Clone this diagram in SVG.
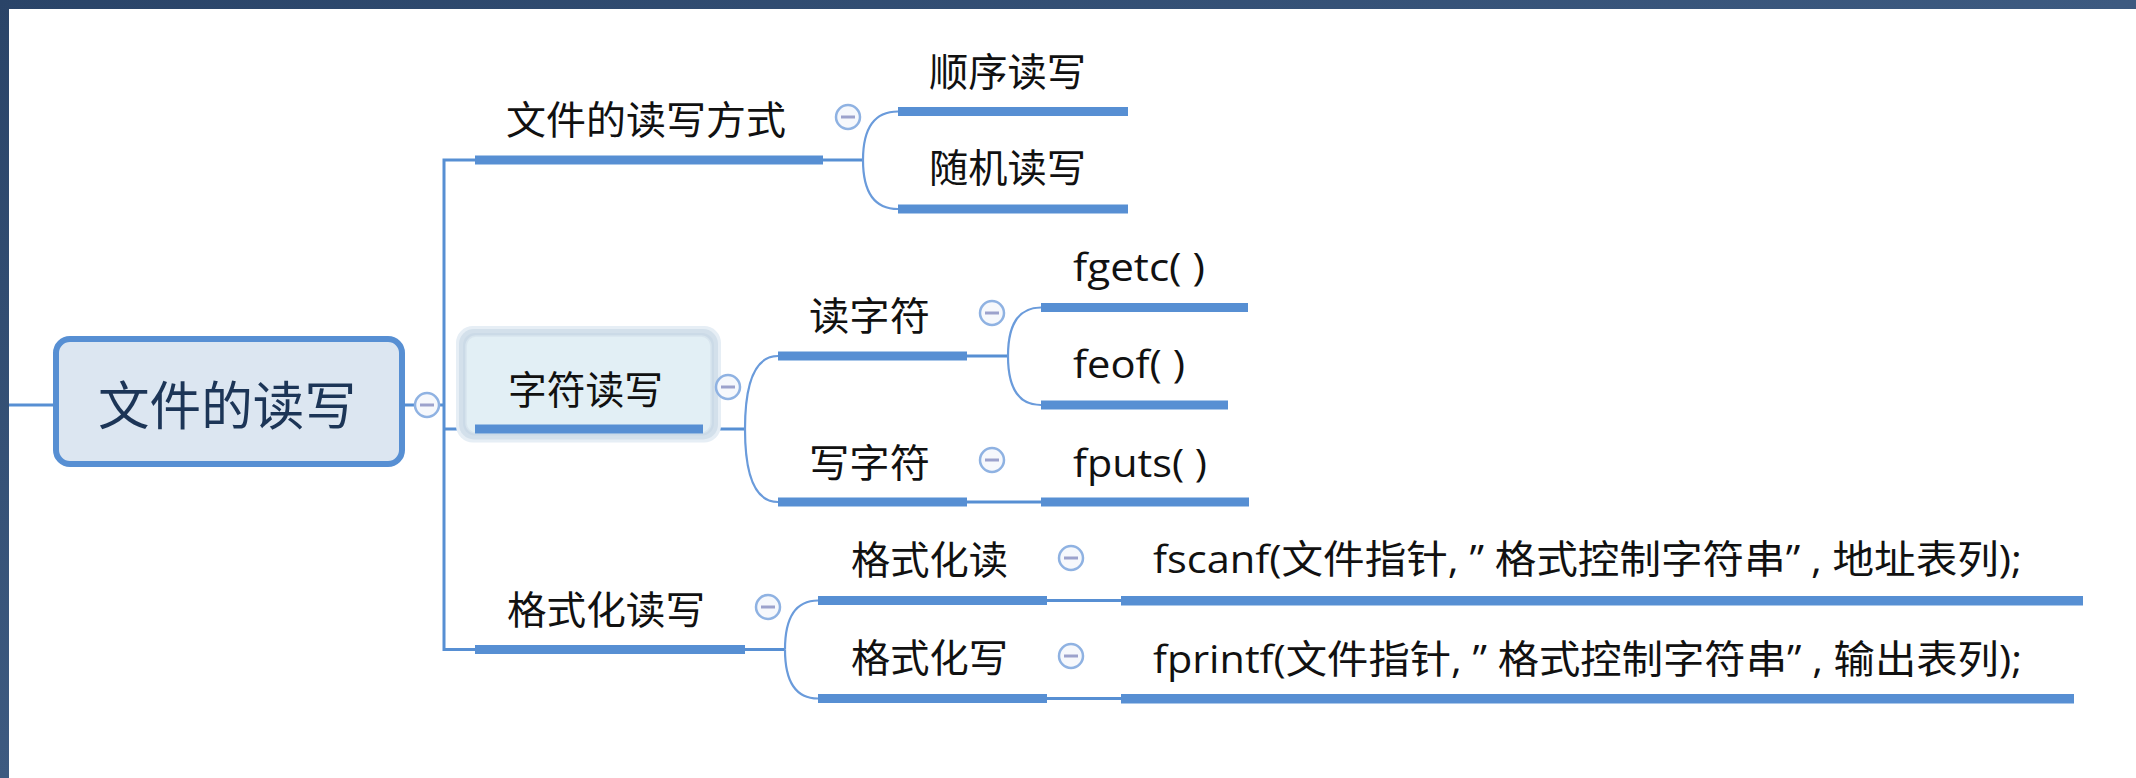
<svg xmlns="http://www.w3.org/2000/svg" width="2136" height="778" viewBox="0 0 2136 778">
<defs>
<linearGradient id="bg" x1="0" y1="0" x2="1" y2="1">
<stop offset="0" stop-color="#2a4468"/>
<stop offset="0.5" stop-color="#3d5a80"/>
<stop offset="1" stop-color="#22395a"/>
</linearGradient>
<style>
.bar{fill:#578fd3}
.thin{stroke:#578fd3;stroke-width:3;fill:none}
.curve{stroke:#6a9bdb;stroke-width:2.2;fill:none}
.cjk{font-family:"Noto Sans CJK SC","Noto Sans CJK JP",sans-serif;font-size:39px;fill:#111}
.mix{font-family:"Open Sans","Noto Sans CJK SC",sans-serif;font-size:39px;fill:#111}
.tog circle{fill:#f6f8fc;stroke:#8fb2e2;stroke-width:2.5}
.tog line{stroke:#9ca2cc;stroke-width:3}
</style>
</defs>
<rect x="0" y="0" width="2136" height="778" fill="url(#bg)"/>
<rect x="9" y="9" width="2127" height="769" fill="#ffffff"/>

<g id="connectors">
<line class="thin" x1="9" y1="405" x2="53" y2="405"/>
<line class="thin" x1="405" y1="405" x2="444" y2="405"/>
<polyline class="thin" points="475,160 444,160 444,649.5 475,649.5"/>
<line class="thin" x1="444" y1="429" x2="466" y2="429"/>
<line class="thin" x1="823" y1="160" x2="863" y2="160"/>
<path class="curve" d="M863,160 Q863,111.5 898,111.5"/>
<path class="curve" d="M863,160 Q863,209 898,209"/>
<line class="thin" x1="703" y1="429" x2="745" y2="429"/>
<path class="curve" d="M745,429 Q745,356 778,356"/>
<path class="curve" d="M745,429 Q745,502 778,502"/>
<line class="thin" x1="967" y1="356" x2="1008" y2="356"/>
<path class="curve" d="M1008,356 Q1008,307.5 1041,307.5"/>
<path class="curve" d="M1008,356 Q1008,405 1041,405"/>
<line class="thin" x1="967" y1="502" x2="1041" y2="502"/>
<line class="thin" x1="745" y1="649.5" x2="785" y2="649.5"/>
<path class="curve" d="M785,649.5 Q785,600.5 818,600.5"/>
<path class="curve" d="M785,649.5 Q785,698.5 818,698.5"/>
<line class="thin" x1="1047" y1="600.5" x2="1121" y2="600.5"/>
<line class="thin" x1="1047" y1="698.5" x2="1121" y2="698.5"/>
</g>

<g id="root">
<rect x="56" y="339" width="346" height="125" rx="14" fill="#dce6f1" stroke="#578fd3" stroke-width="6"/>
<text x="98" y="425" font-family="Noto Sans CJK SC, sans-serif" font-size="52" fill="#1c3557" textLength="258" lengthAdjust="spacingAndGlyphs">文件的读写</text>
<g class="tog"><circle cx="427" cy="405" r="12"/><line x1="420" y1="405" x2="434" y2="405"/></g>
</g>

<g id="n-fangshi">
<rect class="bar" x="475" y="155.5" width="348" height="9"/>
<text class="cjk" x="506" y="134" textLength="280" lengthAdjust="spacingAndGlyphs">文件的读写方式</text>
<g class="tog"><circle cx="848" cy="117" r="12"/><line x1="841" y1="117" x2="855" y2="117"/></g>
</g>
<g id="n-shunxu">
<rect class="bar" x="898" y="107" width="230" height="9"/>
<text class="cjk" x="929" y="86" textLength="157" lengthAdjust="spacingAndGlyphs">顺序读写</text>
</g>
<g id="n-suiji">
<rect class="bar" x="898" y="204.5" width="230" height="9"/>
<text class="cjk" x="929" y="182" textLength="157" lengthAdjust="spacingAndGlyphs">随机读写</text>
</g>

<g id="n-zifu">
<rect x="456" y="326" width="265" height="116.5" rx="17" fill="#e6eef5"/>
<rect x="459" y="329" width="259" height="110.5" rx="15" fill="#d3e0eb"/>
<rect x="463" y="333" width="251" height="102.5" rx="12" fill="#cbdae7"/>
<rect x="466" y="336" width="245" height="97" rx="10" fill="#e2eff5" stroke="#d8e5ee" stroke-width="1.5"/>
<rect class="bar" x="475" y="424.5" width="228" height="9"/>
<text class="cjk" x="508" y="404" textLength="155" lengthAdjust="spacingAndGlyphs">字符读写</text>
<g class="tog"><circle cx="728" cy="387" r="12"/><line x1="721" y1="387" x2="735" y2="387"/></g>
</g>
<g id="n-duzifu">
<rect class="bar" x="778" y="351.5" width="189" height="9"/>
<text class="cjk" x="809" y="330" textLength="121" lengthAdjust="spacingAndGlyphs">读字符</text>
<g class="tog"><circle cx="992" cy="313" r="12"/><line x1="985" y1="313" x2="999" y2="313"/></g>
</g>
<g id="n-fgetc">
<rect class="bar" x="1041" y="303" width="207" height="9"/>
<text class="mix" x="1073" y="281" textLength="132" lengthAdjust="spacingAndGlyphs">fgetc( )</text>
</g>
<g id="n-feof">
<rect class="bar" x="1041" y="400.5" width="187" height="9"/>
<text class="mix" x="1073" y="378" textLength="112" lengthAdjust="spacingAndGlyphs">feof( )</text>
</g>
<g id="n-xiezifu">
<rect class="bar" x="778" y="497.5" width="189" height="9"/>
<text class="cjk" x="809" y="477" textLength="121" lengthAdjust="spacingAndGlyphs">写字符</text>
<g class="tog"><circle cx="992" cy="460" r="12"/><line x1="985" y1="460" x2="999" y2="460"/></g>
</g>
<g id="n-fputs">
<rect class="bar" x="1041" y="497.5" width="208" height="9"/>
<text class="mix" x="1073" y="477" textLength="134" lengthAdjust="spacingAndGlyphs">fputs( )</text>
</g>

<g id="n-geshihua">
<rect class="bar" x="475" y="645" width="270" height="9"/>
<text class="cjk" x="507" y="624" textLength="198" lengthAdjust="spacingAndGlyphs">格式化读写</text>
<g class="tog"><circle cx="768" cy="607" r="12"/><line x1="761" y1="607" x2="775" y2="607"/></g>
</g>
<g id="n-gsdu">
<rect class="bar" x="818" y="596" width="229" height="9"/>
<text class="cjk" x="851" y="574" textLength="157" lengthAdjust="spacingAndGlyphs">格式化读</text>
<g class="tog"><circle cx="1071" cy="558" r="12"/><line x1="1064" y1="558" x2="1078" y2="558"/></g>
</g>
<g id="n-fscanf">
<rect class="bar" x="1121" y="596" width="962" height="9.5"/>
<text class="mix" x="1153" y="573" textLength="869" lengthAdjust="spacingAndGlyphs">fscanf(文件指针, ” 格式控制字符串” , 地址表列);</text>
</g>
<g id="n-gsxie">
<rect class="bar" x="818" y="694" width="229" height="9"/>
<text class="cjk" x="851" y="672" textLength="157" lengthAdjust="spacingAndGlyphs">格式化写</text>
<g class="tog"><circle cx="1071" cy="656" r="12"/><line x1="1064" y1="656" x2="1078" y2="656"/></g>
</g>
<g id="n-fprintf">
<rect class="bar" x="1121" y="694" width="953" height="9.5"/>
<text class="mix" x="1153" y="673" textLength="869" lengthAdjust="spacingAndGlyphs">fprintf(文件指针, ” 格式控制字符串” , 输出表列);</text>
</g>
</svg>
